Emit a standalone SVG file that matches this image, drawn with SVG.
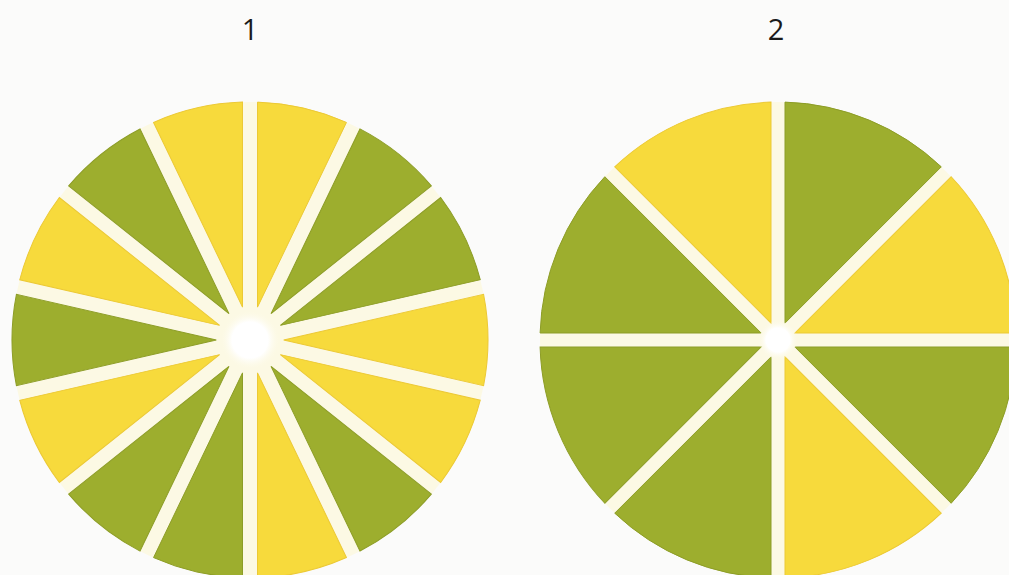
<svg xmlns="http://www.w3.org/2000/svg" xmlns:xlink="http://www.w3.org/1999/xlink" width="1009" height="575" viewBox="0 0 1009 575">
  <style>
    .g { fill: #9dae2e; stroke: #8d9d27; stroke-width: 1; }
    .y { fill: #f7da3c; stroke: #ecc935; stroke-width: 1; }
    .gap { fill: #fcf9e4; }
    .lbl { font-family: "Open Sans", "Liberation Sans", sans-serif; font-size: 29px; fill: #1a1a1a; text-anchor: middle; }
  </style>
  <defs>
    <path id="w14" d="M 7.5 -32.86 L 7.5 -237.88 A 238 238 0 0 1 96.45 -217.58 Z"/>
    <path id="w8" d="M 7 -16.9 L 7 -237.9 A 238 238 0 0 1 163.27 -173.17 Z"/>
    <radialGradient id="hub">
      <stop offset="0" stop-color="#ffffff"/>
      <stop offset="0.6" stop-color="#ffffff"/>
      <stop offset="1" stop-color="#fcf9e4" stop-opacity="0"/>
    </radialGradient>
  </defs>
  <rect width="1009" height="575" fill="#fbfbfa"/>

  <g id="label1"><text class="lbl" x="250" y="40">1</text></g>
  <g id="label2"><text class="lbl" x="776" y="40">2</text></g>

  <g id="circle1" transform="translate(250 340)">
    <circle class="gap" r="238"/>
    <use xlink:href="#w14" class="y" transform="rotate(0)"/>
    <use xlink:href="#w14" class="g" transform="rotate(25.714)"/>
    <use xlink:href="#w14" class="g" transform="rotate(51.429)"/>
    <use xlink:href="#w14" class="y" transform="rotate(77.143)"/>
    <use xlink:href="#w14" class="y" transform="rotate(102.857)"/>
    <use xlink:href="#w14" class="g" transform="rotate(128.571)"/>
    <use xlink:href="#w14" class="y" transform="rotate(154.286)"/>
    <use xlink:href="#w14" class="g" transform="rotate(180)"/>
    <use xlink:href="#w14" class="g" transform="rotate(205.714)"/>
    <use xlink:href="#w14" class="y" transform="rotate(231.429)"/>
    <use xlink:href="#w14" class="g" transform="rotate(257.143)"/>
    <use xlink:href="#w14" class="y" transform="rotate(282.857)"/>
    <use xlink:href="#w14" class="g" transform="rotate(308.571)"/>
    <use xlink:href="#w14" class="y" transform="rotate(334.286)"/>
    <circle r="30" fill="url(#hub)"/>
  </g>

  <g id="circle2" transform="translate(778 340)">
    <circle class="gap" r="238"/>
    <use xlink:href="#w8" class="g" transform="rotate(0)"/>
    <use xlink:href="#w8" class="y" transform="rotate(45)"/>
    <use xlink:href="#w8" class="g" transform="rotate(90)"/>
    <use xlink:href="#w8" class="y" transform="rotate(135)"/>
    <use xlink:href="#w8" class="g" transform="rotate(180)"/>
    <use xlink:href="#w8" class="g" transform="rotate(225)"/>
    <use xlink:href="#w8" class="g" transform="rotate(270)"/>
    <use xlink:href="#w8" class="y" transform="rotate(315)"/>
    <circle r="20" fill="url(#hub)"/>
  </g>

  <g id="connectors"/>
</svg>
